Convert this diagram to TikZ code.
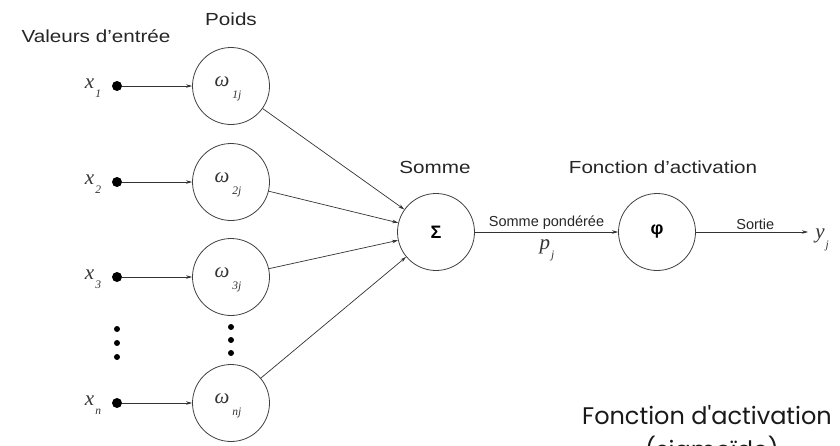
\documentclass[tikz,border=0pt]{standalone}
\usepackage{fontspec}
\setmainfont{Liberation Sans}
\newfontfamily\tms{Liberation Serif}
\newfontfamily\geo{Poppins}
\usetikzlibrary{arrows.meta}
\newcommand\sbs[2]{#1\kern1pt\raisebox{-0.45em}{\fontsize{11.5}{12}\selectfont #2}}
\newcommand\wsb[2]{#1\kern3pt\raisebox{-0.55em}{\fontsize{11.5}{12}\selectfont #2}}
\newcommand\wide[1]{\scalebox{1.18}[1]{#1}}
\begin{document}
\begin{tikzpicture}[x=1pt,y=-1pt,
  neuron/.style={draw=black!75,circle,line width=0.8pt,minimum size=77pt,inner sep=0pt},
  inputdot/.style={circle,fill=black,minimum size=10pt,inner sep=0pt},
  smalldot/.style={circle,fill=black,minimum size=6pt,inner sep=0pt},
  conn/.style={draw=black!80,line width=0.7pt,-{Stealth[length=6pt,width=3.5pt]}},
  head/.style={font=\fontsize{17.5}{20}\selectfont,text=black!85},
  small/.style={font=\fontsize{14.5}{16}\selectfont,text=black!85},
  mathlbl/.style={font=\tms\itshape\fontsize{21}{23}\selectfont,text=black!80},
  caption/.style={font=\geo\fontsize{24}{30}\selectfont,text=black!90,anchor=base}]
\useasboundingbox (0,0) rectangle (840,445);
% headings
\node[head] (hval) at (96,36) {\wide{Valeurs d’entrée}};
\node[head] (hpoids) at (231,19) {\wide{Poids}};
\node[head] (hsum) at (435,167) {\wide{Somme}};
\node[head] (hact) at (663,167) {\wide{Fonction d’activation}};
% inputs
\foreach \i/\y/\s in {1/86/1,2/182/2,3/277/3,n/403/n}{
  \node[mathlbl] (lx\i) at (93,\y+2) {\sbs{x}{\s}};
  \node[inputdot] (x\i) at (117,\y) {};
  \node[neuron] (w\i) at (231,\y) {};
  \node[mathlbl] (lw\i) at (228,\y+3) {\wsb{ω}{\s j}};
  \draw[conn] (x\i) -- (w\i);
}
% dots
\node[smalldot] (d1) at (117,329) {};
\node[smalldot] (d2) at (117,343) {};
\node[smalldot] (d3) at (117,357) {};
\node[smalldot] (e1) at (231,327) {};
\node[smalldot] (e2) at (231,340) {};
\node[smalldot] (e3) at (231,353) {};
% sum and activation
\node[neuron] (sum) at (436,232) {\fontsize{18}{20}\selectfont\bfseries Σ};
\node[neuron] (phi) at (657,232) {\fontsize{18}{20}\selectfont\bfseries φ};
\foreach \i in {1,2,3,n}{\draw[conn] (w\i) -- (sum);}
\draw[conn] (sum) -- node[small,above=-1pt,pos=0.5] (lsp) {Somme pondérée} (phi);
\node[mathlbl] (pj) at (547,250) {\sbs{p}{j}};
\coordinate (yend) at (808,232);
\draw[conn] (phi) -- node[small,above=-1pt,pos=0.53] (lsort) {Sortie} (yend);
\node[mathlbl] (yj) at (822,240) {\sbs{y}{j}};
% bottom caption (second line cut by the frame)
\node[caption] (cap1) at (707,424) {Fonction d'activation};
\node[caption] (cap2) at (712,458) {(sigmoïde)};
\end{tikzpicture}
\end{document}
